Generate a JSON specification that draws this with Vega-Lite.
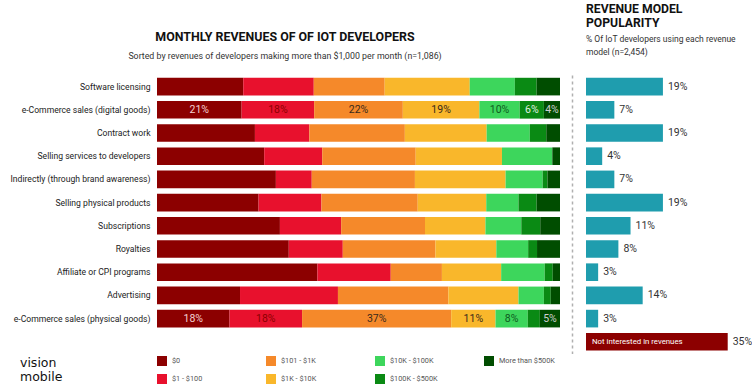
{
  "$schema": "https://vega.github.io/schema/vega-lite/v6.json",
  "background": "white",
  "padding": {"left": 10, "top": 3, "right": 0, "bottom": 0},
  "autosize": {"type": "pad"},
  "bounds": "flush",
  "spacing": 26,
  "config": {
    "view": {"stroke": null},
    "font": "Roboto",
    "text": {"font": "Roboto"}
  },
  "datasets": {
    "left": [
      {"model": "Software licensing", "band": "$0", "pct": 0.214},
      {"model": "Software licensing", "band": "$1 - $100", "pct": 0.175},
      {"model": "Software licensing", "band": "$101 - $1K", "pct": 0.176},
      {"model": "Software licensing", "band": "$1K - $10K", "pct": 0.211},
      {"model": "Software licensing", "band": "$10K - $100K", "pct": 0.112},
      {"model": "Software licensing", "band": "$100K - $500K", "pct": 0.054},
      {"model": "Software licensing", "band": "More than $500K", "pct": 0.058},
      {"model": "e-Commerce sales (digital goods)", "band": "$0", "pct": 0.21},
      {"model": "e-Commerce sales (digital goods)", "band": "$1 - $100", "pct": 0.18},
      {"model": "e-Commerce sales (digital goods)", "band": "$101 - $1K", "pct": 0.22},
      {"model": "e-Commerce sales (digital goods)", "band": "$1K - $10K", "pct": 0.19},
      {"model": "e-Commerce sales (digital goods)", "band": "$10K - $100K", "pct": 0.10},
      {"model": "e-Commerce sales (digital goods)", "band": "$100K - $500K", "pct": 0.06},
      {"model": "e-Commerce sales (digital goods)", "band": "More than $500K", "pct": 0.04},
      {"model": "Contract work", "band": "$0", "pct": 0.243},
      {"model": "Contract work", "band": "$1 - $100", "pct": 0.135},
      {"model": "Contract work", "band": "$101 - $1K", "pct": 0.237},
      {"model": "Contract work", "band": "$1K - $10K", "pct": 0.203},
      {"model": "Contract work", "band": "$10K - $100K", "pct": 0.107},
      {"model": "Contract work", "band": "$100K - $500K", "pct": 0.041},
      {"model": "Contract work", "band": "More than $500K", "pct": 0.034},
      {"model": "Selling services to developers", "band": "$0", "pct": 0.266},
      {"model": "Selling services to developers", "band": "$1 - $100", "pct": 0.144},
      {"model": "Selling services to developers", "band": "$101 - $1K", "pct": 0.232},
      {"model": "Selling services to developers", "band": "$1K - $10K", "pct": 0.214},
      {"model": "Selling services to developers", "band": "$10K - $100K", "pct": 0.125},
      {"model": "Selling services to developers", "band": "$100K - $500K", "pct": 0.0},
      {"model": "Selling services to developers", "band": "More than $500K", "pct": 0.019},
      {"model": "Indirectly (through brand awareness)", "band": "$0", "pct": 0.295},
      {"model": "Indirectly (through brand awareness)", "band": "$1 - $100", "pct": 0.089},
      {"model": "Indirectly (through brand awareness)", "band": "$101 - $1K", "pct": 0.256},
      {"model": "Indirectly (through brand awareness)", "band": "$1K - $10K", "pct": 0.225},
      {"model": "Indirectly (through brand awareness)", "band": "$10K - $100K", "pct": 0.092},
      {"model": "Indirectly (through brand awareness)", "band": "$100K - $500K", "pct": 0.012},
      {"model": "Indirectly (through brand awareness)", "band": "More than $500K", "pct": 0.031},
      {"model": "Selling physical products", "band": "$0", "pct": 0.252},
      {"model": "Selling physical products", "band": "$1 - $100", "pct": 0.156},
      {"model": "Selling physical products", "band": "$101 - $1K", "pct": 0.239},
      {"model": "Selling physical products", "band": "$1K - $10K", "pct": 0.170},
      {"model": "Selling physical products", "band": "$10K - $100K", "pct": 0.080},
      {"model": "Selling physical products", "band": "$100K - $500K", "pct": 0.045},
      {"model": "Selling physical products", "band": "More than $500K", "pct": 0.058},
      {"model": "Subscriptions", "band": "$0", "pct": 0.305},
      {"model": "Subscriptions", "band": "$1 - $100", "pct": 0.152},
      {"model": "Subscriptions", "band": "$101 - $1K", "pct": 0.208},
      {"model": "Subscriptions", "band": "$1K - $10K", "pct": 0.150},
      {"model": "Subscriptions", "band": "$10K - $100K", "pct": 0.089},
      {"model": "Subscriptions", "band": "$100K - $500K", "pct": 0.047},
      {"model": "Subscriptions", "band": "More than $500K", "pct": 0.049},
      {"model": "Royalties", "band": "$0", "pct": 0.327},
      {"model": "Royalties", "band": "$1 - $100", "pct": 0.134},
      {"model": "Royalties", "band": "$101 - $1K", "pct": 0.230},
      {"model": "Royalties", "band": "$1K - $10K", "pct": 0.151},
      {"model": "Royalties", "band": "$10K - $100K", "pct": 0.079},
      {"model": "Royalties", "band": "$100K - $500K", "pct": 0.022},
      {"model": "Royalties", "band": "More than $500K", "pct": 0.057},
      {"model": "Affiliate or CPI programs", "band": "$0", "pct": 0.398},
      {"model": "Affiliate or CPI programs", "band": "$1 - $100", "pct": 0.182},
      {"model": "Affiliate or CPI programs", "band": "$101 - $1K", "pct": 0.127},
      {"model": "Affiliate or CPI programs", "band": "$1K - $10K", "pct": 0.147},
      {"model": "Affiliate or CPI programs", "band": "$10K - $100K", "pct": 0.108},
      {"model": "Affiliate or CPI programs", "band": "$100K - $500K", "pct": 0.020},
      {"model": "Affiliate or CPI programs", "band": "More than $500K", "pct": 0.018},
      {"model": "Advertising", "band": "$0", "pct": 0.206},
      {"model": "Advertising", "band": "$1 - $100", "pct": 0.243},
      {"model": "Advertising", "band": "$101 - $1K", "pct": 0.274},
      {"model": "Advertising", "band": "$1K - $10K", "pct": 0.174},
      {"model": "Advertising", "band": "$10K - $100K", "pct": 0.063},
      {"model": "Advertising", "band": "$100K - $500K", "pct": 0.017},
      {"model": "Advertising", "band": "More than $500K", "pct": 0.023},
      {"model": "e-Commerce sales (physical goods)", "band": "$0", "pct": 0.18},
      {"model": "e-Commerce sales (physical goods)", "band": "$1 - $100", "pct": 0.18},
      {"model": "e-Commerce sales (physical goods)", "band": "$101 - $1K", "pct": 0.37},
      {"model": "e-Commerce sales (physical goods)", "band": "$1K - $10K", "pct": 0.11},
      {"model": "e-Commerce sales (physical goods)", "band": "$10K - $100K", "pct": 0.08},
      {"model": "e-Commerce sales (physical goods)", "band": "$100K - $500K", "pct": 0.03},
      {"model": "e-Commerce sales (physical goods)", "band": "More than $500K", "pct": 0.05}
    ],
    "right": [
      {"model": "Software licensing", "val": 0.19},
      {"model": "e-Commerce sales (digital goods)", "val": 0.07},
      {"model": "Contract work", "val": 0.19},
      {"model": "Selling services to developers", "val": 0.04},
      {"model": "Indirectly (through brand awareness)", "val": 0.07},
      {"model": "Selling physical products", "val": 0.19},
      {"model": "Subscriptions", "val": 0.11},
      {"model": "Royalties", "val": 0.08},
      {"model": "Affiliate or CPI programs", "val": 0.03},
      {"model": "Advertising", "val": 0.14},
      {"model": "e-Commerce sales (physical goods)", "val": 0.03},
      {"model": "Not interested in revenues", "val": 0.35}
    ]
  },
  "hconcat": [
    {
      "width": 403,
      "height": 255.2,
      "title": {
        "text": "MONTHLY REVENUES OF OF IOT DEVELOPERS",
        "subtitle": "Sorted by revenues of developers making more than $1,000 per month (n=1,086)",
        "anchor": "middle",
        "frame": "bounds",
        "font": "Roboto",
        "fontSize": 12.4,
        "fontWeight": "bold",
        "color": "#111111",
        "subtitleFont": "Roboto",
        "subtitleFontSize": 8.8,
        "subtitleColor": "#333333",
        "subtitlePadding": 9,
        "offset": 14
      },
      "data": {"name": "left"},
      "transform": [
        {"calculate": "indexof(['$0','$1 - $100','$101 - $1K','$1K - $10K','$10K - $100K','$100K - $500K','More than $500K'], datum.band)", "as": "k"},
        {"stack": "pct", "groupby": ["model"], "sort": [{"field": "k", "order": "ascending"}], "offset": "normalize", "as": ["s0", "s1"]},
        {"calculate": "(datum.s0 + datum.s1) / 2", "as": "mid"}
      ],
      "encoding": {
        "y": {
          "field": "model",
          "type": "nominal",
          "sort": null,
          "scale": {"paddingInner": 0.24, "paddingOuter": 0.12},
          "axis": {
            "title": null,
            "ticks": false,
            "domain": false,
            "labelPadding": 7,
            "labelFontSize": 8.6,
            "labelColor": "#222222",
            "labelFont": "Roboto",
            "labelLimit": 300
          }
        }
      },
      "layer": [
        {
          "mark": {"type": "bar"},
          "encoding": {
            "x": {"field": "s0", "type": "quantitative", "scale": {"domain": [0, 1], "nice": false}, "axis": null},
            "x2": {"field": "s1"},
            "color": {
              "field": "band",
              "type": "nominal",
              "scale": {
                "domain": ["$0", "$101 - $1K", "$10K - $100K", "More than $500K", "$1 - $100", "$1K - $10K", "$100K - $500K"],
                "range": ["#8c0000", "#f5892a", "#3dd65c", "#004d00", "#e8112d", "#f9b72b", "#0a8a14"]
              },
              "legend": {
                "orient": "none",
                "legendX": -137,
                "legendY": 281,
                "columns": 4,
                "direction": "horizontal",
                "gridAlign": "all",
                "columnPadding": 38,
                "rowPadding": 8,
                "symbolType": "square",
                "symbolSize": 100,
                "symbolStrokeWidth": 0,
                "symbolOpacity": 1,
                "labelFont": "Roboto",
                "labelFontSize": 7.3,
                "labelColor": "#555555",
                "labelOffset": 5,
                "title": ["vision", "mobile"],
                "titleOrient": "left",
                "titleAnchor": "end",
                "titleFont": "DejaVu Sans",
                "titleFontSize": 12.5,
                "titleFontWeight": "normal",
                "titleColor": "#111111",
                "titleLineHeight": 14,
                "titleBaseline": "bottom",
                "titleAlign": "left",
                "titlePadding": 94
              }
            }
          }
        },
        {
          "transform": [{"filter": "datum.model === 'e-Commerce sales (digital goods)' || datum.model === 'e-Commerce sales (physical goods)'"}, {"filter": "datum.pct >= 0.04"}],
          "mark": {"type": "text", "fontSize": 10.5, "font": "Roboto", "align": "center", "baseline": "middle"},
          "encoding": {
            "x": {"field": "mid", "type": "quantitative"},
            "text": {"field": "pct", "type": "quantitative", "format": ".0%"},
            "color": {
              "condition": [
                {"test": "datum.band === '$0'", "value": "#f4d0d0"},
                {"test": "datum.band === '$1 - $100'", "value": "#8b0000"},
                {"test": "datum.band === '$10K - $100K'", "value": "#0d5a20"},
                {"test": "datum.band === '$100K - $500K'", "value": "#e0f0e0"},
                {"test": "datum.band === 'More than $500K'", "value": "#d0d0d0"}
              ],
              "value": "#3a2a1a"
            }
          }
        }
      ]
    },
    {
      "width": 166,
      "height": 278.4,
      "title": {
        "text": ["REVENUE MODEL", "POPULARITY"],
        "subtitle": ["% Of IoT developers using each revenue", "model (n=2,454)"],
        "anchor": "start",
        "frame": "group",
        "font": "Roboto",
        "fontSize": 12.2,
        "fontWeight": "bold",
        "lineHeight": 14,
        "color": "#111111",
        "subtitleFont": "Roboto",
        "subtitleFontSize": 8.5,
        "subtitleLineHeight": 13,
        "subtitleColor": "#333333",
        "subtitlePadding": 5,
        "offset": 19
      },
      "data": {"name": "right"},
      "encoding": {
        "y": {
          "field": "model",
          "type": "nominal",
          "sort": null,
          "scale": {"paddingInner": 0.24, "paddingOuter": 0.12},
          "axis": {
            "title": null,
            "labels": false,
            "ticks": false,
            "grid": false,
            "domain": true,
            "domainDash": [3, 3],
            "domainColor": "#b0b0b0",
            "domainWidth": 1.5,
            "offset": 14
          }
        }
      },
      "layer": [
        {
          "mark": {"type": "bar"},
          "encoding": {
            "x": {"field": "val", "type": "quantitative", "scale": {"domain": [0, 0.41], "nice": false}, "axis": null},
            "color": {
              "condition": {"test": "datum.model === 'Not interested in revenues'", "value": "#8c0000"},
              "value": "#1f9dae"
            }
          }
        },
        {
          "mark": {"type": "text", "align": "left", "baseline": "middle", "dx": 5, "fontSize": 10.5, "font": "Roboto", "color": "#333333"},
          "encoding": {
            "x": {"field": "val", "type": "quantitative"},
            "text": {"field": "val", "type": "quantitative", "format": ".0%"}
          }
        },
        {
          "transform": [{"filter": "datum.model === 'Not interested in revenues'"}],
          "mark": {"type": "text", "align": "left", "baseline": "middle", "dx": 6, "fontSize": 7.8, "font": "Roboto", "color": "#ffffff"},
          "encoding": {
            "x": {"datum": 0},
            "text": {"field": "model", "type": "nominal"}
          }
        }
      ]
    }
  ]
}
